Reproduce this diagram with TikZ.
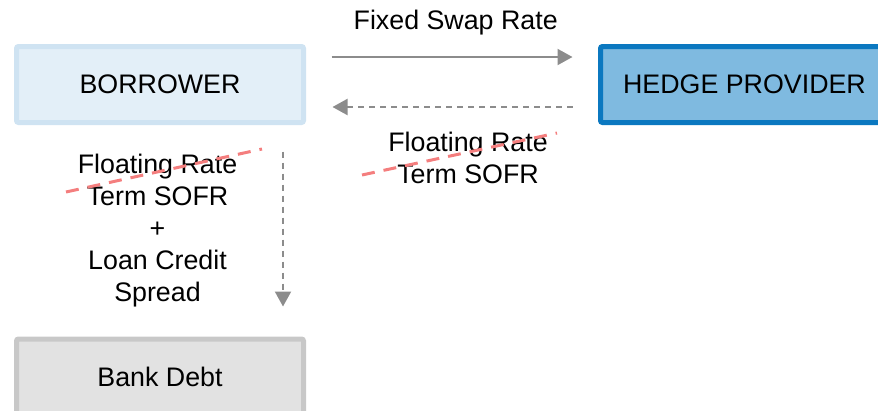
\documentclass[tikz,border=0pt]{standalone}
\usepackage{fontspec}
\setmainfont{Liberation Sans}
\usetikzlibrary{arrows.meta}
\definecolor{borfill}{HTML}{E3EFF8}
\definecolor{borline}{HTML}{CFE3F2}
\definecolor{hedfill}{HTML}{7FBAE0}
\definecolor{hedline}{HTML}{0B78C0}
\definecolor{bankfill}{HTML}{E2E2E2}
\definecolor{bankline}{HTML}{C8C8C8}
\definecolor{arrgray}{HTML}{8C8C8C}
\definecolor{strike}{HTML}{F47E7E}
\tikzset{
  box/.style={rectangle, line width=5pt, rounded corners=2pt, minimum width=287pt, minimum height=76pt, inner sep=0pt, font=\fontsize{26.8}{32}\selectfont},
  lbl/.style={align=center, inner sep=0pt, font=\fontsize{26.8}{32}\selectfont},
  flow/.style={draw=arrgray, line width=2pt, -{Triangle[length=15pt,width=16pt]}},
  dflow/.style={flow, dash pattern=on 6pt off 5pt},
  strikeline/.style={draw=strike, line width=3pt, dash pattern=on 13pt off 9pt}
}
\begin{document}
\begin{tikzpicture}[x=1pt,y=-1pt]
\useasboundingbox (0,0) rectangle (878,410);
\begin{scope}
\clip (0,0) rectangle (878,410);
\node[box, fill=borfill, draw=borline] (borrower) at (160,84.5) {BORROWER};
\node[box, fill=hedfill, draw=hedline, minimum width=288pt] (hedge) at (744.5,84.5) {HEDGE PROVIDER};
\node[box, fill=bankfill, draw=bankline] (bank) at (160,377) {Bank Debt};
\end{scope}
\node[lbl] (fixed) at (455.7,23) {Fixed Swap Rate};
\node[lbl] (floatr) at (468,157.5) {Floating Rate\\Term SOFR};
\node[lbl] (floatl) at (157.5,231) {Floating Rate\\Term SOFR\\+\\Loan Credit\\Spread};
\draw[flow, shorten <=25.5pt, shorten >=25.5pt] (borrower.east |- 0,57) -- (hedge.west |- 0,57);
\draw[dflow, shorten <=25.5pt, shorten >=26.5pt] (hedge.west |- 0,107) -- (borrower.east |- 0,107);
\draw[dflow, shorten <=26.5pt, shorten >=30pt] (283,0 |- borrower.south) -- (283,0 |- bank.north);
\coordinate (sr1) at (362,175);
\coordinate (sr2) at (557,133);
\coordinate (sl1) at (66,192);
\coordinate (sl2) at (262,149);
\draw[strikeline] (sr1) -- (sr2);
\draw[strikeline] (sl1) -- (sl2);
\end{tikzpicture}
\end{document}
